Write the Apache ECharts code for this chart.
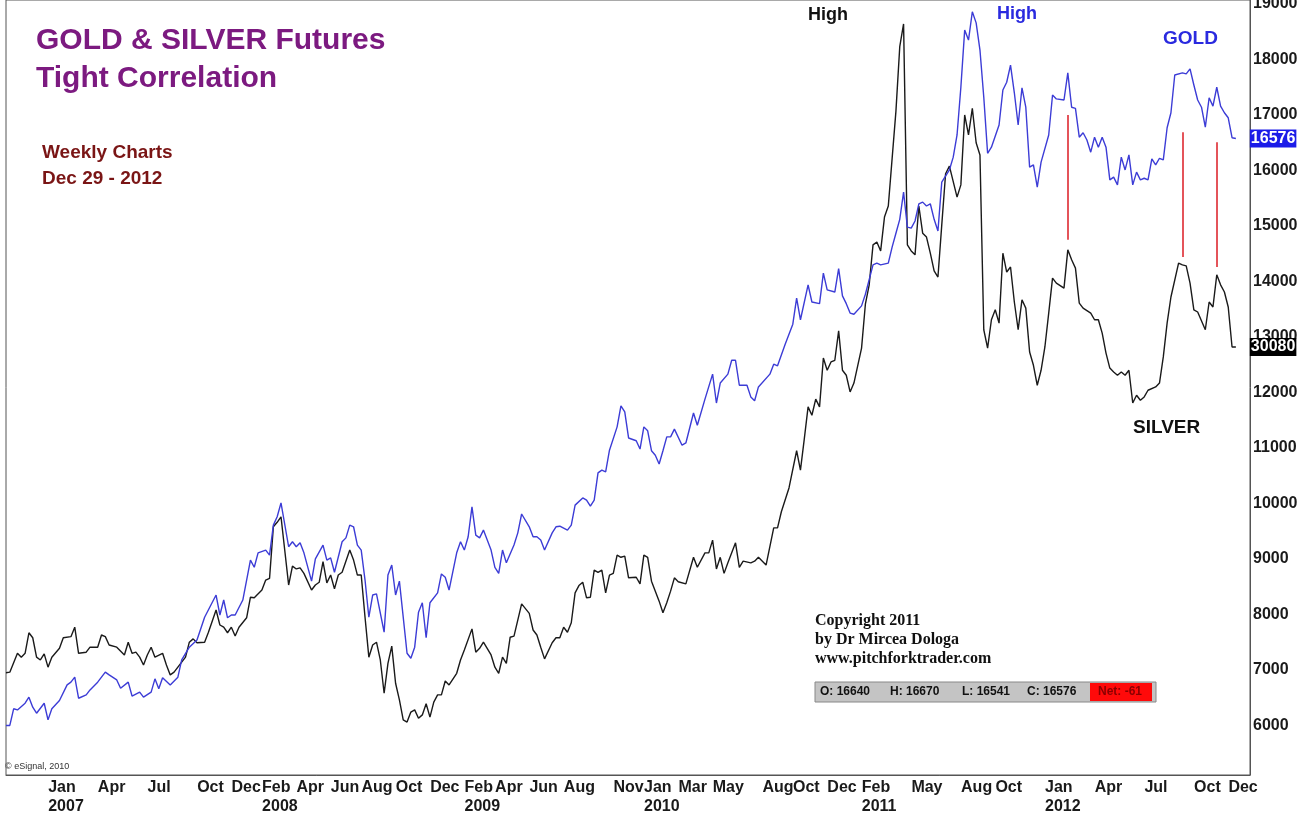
<!DOCTYPE html>
<html lang="en">
<head>
<meta charset="UTF-8">
<title>GOLD &amp; SILVER Futures</title>
<script src="https://cdn.jsdelivr.net/npm/echarts@6/dist/echarts.min.js"></script>
<style>
  html, body { margin: 0; padding: 0; background: #fff; }
  #main { width: 1308px; height: 816px; }
</style>
</head>
<body>
<div id="main"></div>
<script>
// weekly closes; week 0 = Fri 2 Feb 2007. Silver is drawn on the gold price scale, as in the source chart.
var weekZero = '2007-02-02';

var goldWeeks = [
  -14,-13,-12,-11,-9,-8,-7,-6,-4,-3,
  -2,0,2,3,4,5,7,8,10,12,
  13,15,16,18,19,21,22,24,25,26,
  27,29,31,32,34,36,38,41,42,43,
  44,45,46,48,50,51,52,54,55,56,
  57,58,60,61,62,63,64,66,67,69,
  70,71,72,74,75,76,77,78,79,80,
  81,82,83,85,86,87,88,89,91,92,
  93,94,95,96,97,99,100,101,102,104,
  105,106,107,108,109,110,111,113,114,115,
  116,117,119,120,121,123,124,125,126,127,
  129,130,131,133,134,135,137,138,139,140,
  141,142,143,144,146,147,148,149,151,152,
  153,154,155,156,157,158,159,160,161,163,
  164,166,167,169,171,172,173,175,176,177,
  178,180,181,182,183,186,187,188,190,192,
  193,194,196,197,199,200,201,203,204,205,
  206,207,208,210,211,213,214,215,217,218,
  219,220,221,222,223,224,225,226,227,228,
  229,230,231,233,234,235,236,237,238,239,
  240,241,242,243,244,246,247,248,249,250,
  251,252,253,254,255,256,257,259,260,261,
  263,264,265,266,267,268,269,270,271,272,
  273,274,275,276,277,278,279,280,281,282,
  283,284,285,286,287,288,289,290,291,292,
  294,295,296,297,298,299,300,301,302,303,
  304,305,306,307,308
];
var gold = [
  6000,6000,6300,6280,6400,6510,6330,6220,6400,6100,
  6300,6450,6730,6780,6870,6490,6550,6640,6780,6960,
  6910,6820,6670,6780,6530,6600,6510,6600,6840,6660,
  6860,6730,6870,7180,7410,7540,7950,8350,7990,8260,
  7940,7990,7990,8260,8980,8850,9110,9160,9070,9610,
  9760,10010,9220,9310,9220,9290,9110,8600,9000,9250,
  8980,9020,8760,9310,9380,9610,9580,9250,9160,8620,
  7950,8350,8370,7680,8710,8890,8350,8600,7300,7210,
  7410,8040,8210,7580,8210,8390,8730,8670,8440,9110,
  9310,9160,9400,9940,9430,9380,9520,9160,8850,8740,
  9160,8930,9250,9470,9810,9580,9400,9400,9340,9160,
  9470,9580,9590,9520,9610,9970,10100,10060,9950,10060,
  10550,10600,10570,10960,11380,11760,11650,11180,11130,10980,
  11380,11310,10950,10870,10710,10950,11200,11200,11340,11050,
  11090,11630,11410,11880,12330,11810,12170,12330,12580,12580,
  12130,12130,11920,11850,12100,12330,12510,12480,12870,13230,
  13700,13310,13940,13630,13600,14150,13850,13810,14230,13740,
  13600,13430,13410,13560,13770,14300,14330,14300,14330,14620,
  14870,15120,15610,14980,14960,15090,15400,15430,15360,15400,
  15120,14910,15790,16010,16240,16640,17500,18530,18350,18860,
  18660,18170,17320,16310,16420,16820,17450,17590,17900,17400,
  16820,17490,17140,16060,16100,15700,16150,16640,17360,17290,
  17270,17760,17140,17120,16600,16680,16550,16330,16600,16420,
  16600,16420,15830,15880,15740,16240,16010,16280,15740,15970,
  15830,15860,15830,16210,16100,16220,16190,16770,17040,17720,
  17760,17740,17830,17540,17270,17140,16780,17310,17160,17500,
  17160,17040,16950,16590,16576
];

var silverWeeks = [
  -14,-13,-11,-10,-9,-8,-7,-6,-5,-4,
  -3,-2,0,1,3,4,5,7,8,10,
  11,12,13,15,17,18,19,20,21,22,
  23,24,25,27,28,29,30,32,33,34,
  35,36,38,39,41,42,43,44,45,46,
  47,49,50,51,53,54,55,56,57,58,
  60,61,62,63,64,66,67,68,69,70,
  71,72,73,74,76,77,78,79,80,81,
  82,83,84,85,86,87,88,89,90,91,
  92,93,94,95,96,97,98,99,100,101,
  102,104,105,106,108,109,110,111,113,114,
  115,116,117,118,119,121,123,124,125,126,
  127,129,130,131,132,133,134,135,136,137,
  138,139,140,141,142,143,144,145,146,147,
  148,149,151,152,153,154,155,157,158,159,
  160,161,162,164,166,167,169,170,171,172,
  173,174,175,177,178,179,181,182,183,185,
  187,188,189,191,193,194,195,196,197,198,
  199,200,201,202,203,204,205,206,207,208,
  210,211,212,213,214,215,216,217,219,220,
  221,222,223,224,225,226,227,228,229,230,
  231,232,233,235,236,237,238,239,240,241,
  242,243,244,245,246,247,248,249,250,251,
  252,253,254,255,256,257,258,259,260,261,
  263,264,265,266,267,268,270,271,272,273,
  274,275,276,277,278,279,280,281,282,283,
  284,285,287,288,289,290,291,293,294,295,
  296,297,298,300,301,302,303,304,305,306,
  307,308
];
var silver = [
  6950,6960,7300,7230,7300,7670,7580,7230,7180,7290,
  7050,7230,7390,7580,7600,7770,7300,7320,7410,7410,
  7630,7600,7450,7410,7270,7500,7300,7320,7230,7090,
  7270,7410,7230,7300,7090,6910,6960,7140,7230,7500,
  7560,7490,7500,7680,8080,7810,7770,7670,7770,7610,
  7770,7940,8310,8300,8440,8620,8650,9580,9660,9760,
  8530,8870,8820,8840,8740,8440,8530,8580,8950,8570,
  8710,8460,8710,8760,9160,8980,8710,8710,7950,7230,
  7450,7500,7180,6580,7120,7430,6760,6460,6100,6060,
  6240,6280,6130,6190,6390,6150,6420,6550,6550,6800,
  6730,6940,7180,7360,7740,7320,7390,7500,7270,7050,
  6940,7230,7120,7590,7610,8190,8020,7720,7630,7410,
  7200,7490,7580,7580,7770,7680,7850,8390,8520,8580,
  8300,8310,8800,8760,8800,8390,8710,8740,9070,9030,
  9050,8660,8670,8550,9070,9030,8600,8240,8030,8210,
  8420,8660,8590,8550,9030,8850,9110,9110,9340,8820,
  9030,8740,8930,9290,8850,8960,8930,8960,9030,8890,
  9560,9560,9850,10280,10950,10600,11160,11740,11590,11880,
  11740,12620,12400,12550,12580,13110,12400,12310,12010,12170,
  12800,13590,13940,14660,14710,14550,15160,15360,17070,18230,
  18640,14660,14550,14480,15360,14870,14800,14510,14190,14080,
  15020,15940,16080,15520,15740,17000,16640,17120,16500,16280,
  13130,12800,13310,13490,13250,14510,14170,14260,13630,13130,
  13670,13520,12730,12490,12130,12400,12820,13430,14060,13970,
  13880,14570,14390,14240,13610,13520,13430,13310,13310,13070,
  12710,12440,12370,12310,12370,12310,12400,11810,11950,11860,
  11920,12040,12100,12170,12640,13250,13720,14330,14300,14280,
  13970,13490,13450,13130,13630,13540,14120,13940,13810,13540,
  12820,12820
];

// first Friday of each labelled month, and the year printed under it
var monthTicks = [
  '2007-01-05','2007-04-06','2007-07-06','2007-10-05','2007-12-07',
  '2008-02-01','2008-04-04','2008-06-06','2008-08-01','2008-10-03','2008-12-05',
  '2009-02-06','2009-04-03','2009-06-05','2009-08-07','2009-11-06',
  '2010-01-01','2010-03-05','2010-05-07','2010-08-06','2010-10-01','2010-12-03',
  '2011-02-04','2011-05-06','2011-08-05','2011-10-07',
  '2012-01-06','2012-04-06','2012-07-06','2012-10-05','2012-12-07'
];
var yearTicks = ['2007-01-05','2008-02-01','2009-02-06','2010-01-01','2011-02-04','2012-01-06'];
var monthNames = ['Jan','Feb','Mar','Apr','May','Jun','Jul','Aug','Sep','Oct','Nov','Dec'];
var priceTicks = [6000,7000,8000,9000,10000,11000,12000,13000,14000,15000,16000,17000,18000,19000];
var weekRange = [-14, 311.7];
var priceRange = [5107, 19072];

// red lines joining gold and silver turns: [week, top, bottom]
var corrLines = [[264, 17000, 14750], [294, 16690, 14440], [303, 16510, 14260]];

var goldLast = '16576';
var silverLast = '30080';
var quote = ['O: 16640', 'H: 16670', 'L: 16541', 'C: 16576'];
var netChange = 'Net: -61';

var WEEK = 7 * 864e5;
var base = new Date(weekZero).getTime();
function weekOf(dateStr) { return Math.round((new Date(dateStr).getTime() - base) / WEEK); }
function dateOf(w) { return new Date(base + w * WEEK).toISOString().slice(0, 10); }
function toPairs(weeks, vals) {
  return weeks.map(function (w, i) { return [w, vals[i]]; });
}

var sans = '"Liberation Sans", Arial, sans-serif';
var serif = '"Liberation Serif", "Times New Roman", serif';

var myChart = echarts.init(document.getElementById('main'));

var graphics = [
  { type: 'text', x: 36, y: 41, style: { text: 'GOLD & SILVER Futures', font: 'bold 30px ' + sans, fill: '#7c1a80', textVerticalAlign: 'middle' } },
  { type: 'text', x: 36, y: 79, style: { text: 'Tight Correlation', font: 'bold 30px ' + sans, fill: '#7c1a80', textVerticalAlign: 'middle' } },
  { type: 'text', x: 42, y: 153, style: { text: 'Weekly Charts', font: 'bold 19px ' + sans, fill: '#7a1515', textVerticalAlign: 'middle' } },
  { type: 'text', x: 42, y: 179, style: { text: 'Dec 29 - 2012', font: 'bold 19px ' + sans, fill: '#7a1515', textVerticalAlign: 'middle' } },
  { type: 'text', x: 808, y: 15, style: { text: 'High', font: 'bold 18px ' + sans, fill: '#111', textVerticalAlign: 'middle' } },
  { type: 'text', x: 997, y: 14, style: { text: 'High', font: 'bold 18px ' + sans, fill: '#2a2adf', textVerticalAlign: 'middle' } },
  { type: 'text', x: 1163, y: 39, style: { text: 'GOLD', font: 'bold 19px ' + sans, fill: '#2a2adf', textVerticalAlign: 'middle' } },
  { type: 'text', x: 1133, y: 428, style: { text: 'SILVER', font: 'bold 19px ' + sans, fill: '#111', textVerticalAlign: 'middle' } },
  { type: 'text', x: 815, y: 621, style: { text: 'Copyright 2011', font: 'bold 16px ' + serif, fill: '#111', textVerticalAlign: 'middle' } },
  { type: 'text', x: 815, y: 640, style: { text: 'by Dr Mircea Dologa', font: 'bold 16px ' + serif, fill: '#111', textVerticalAlign: 'middle' } },
  { type: 'text', x: 815, y: 659, style: { text: 'www.pitchforktrader.com', font: 'bold 16px ' + serif, fill: '#111', textVerticalAlign: 'middle' } },
  { type: 'rect', shape: { x: 815, y: 682, width: 341, height: 20 }, style: { fill: '#c4c4c4', stroke: '#888', lineWidth: 1 } },
  { type: 'rect', shape: { x: 1090, y: 683, width: 62, height: 18 }, style: { fill: '#ff0a0a' } },
  { type: 'text', x: 5, y: 767, style: { text: '\u00a9 eSignal, 2010', font: '9px ' + sans, fill: '#333', textVerticalAlign: 'middle' } }
];
var quoteX = [820, 890, 962, 1027];
quote.forEach(function (q, i) {
  graphics.push({ type: 'text', x: quoteX[i], y: 692, style: { text: q, font: 'bold 12px ' + sans, fill: '#111', textVerticalAlign: 'middle' } });
});
graphics.push({ type: 'text', x: 1098, y: 692, style: { text: netChange, font: 'bold 12px ' + sans, fill: '#8a0000', textVerticalAlign: 'middle' } });

var option = {
  animation: false,
  backgroundColor: '#fff',
  grid: {
    left: 6, right: 58, top: 0, bottom: 41,
    show: true, borderColor: '#555', borderWidth: 1,
    containLabel: false, outerBoundsMode: 'none'
  },
  xAxis: {
    type: 'value',
    min: weekRange[0],
    max: weekRange[1],
    axisLine: { show: true, onZero: false, lineStyle: { color: '#555', width: 1 } },
    axisTick: { show: false },
    splitLine: { show: false },
    axisLabel: {
      customValues: monthTicks.map(weekOf),
      align: 'left',
      margin: 3,
      padding: [0, 0, 0, 4],
      fontFamily: sans,
      fontSize: 16,
      fontWeight: 'bold',
      color: '#1a1a1a',
      lineHeight: 19,
      formatter: function (v) {
        var key = dateOf(v);
        var m = monthNames[parseInt(key.slice(5, 7), 10) - 1];
        return yearTicks.indexOf(key) >= 0 ? m + '\n' + key.slice(0, 4) : m;
      }
    }
  },
  yAxis: {
    type: 'value',
    position: 'right',
    min: priceRange[0],
    max: priceRange[1],
    axisLine: { show: true, onZero: false, lineStyle: { color: '#555', width: 1 } },
    axisTick: { show: false },
    splitLine: { show: false },
    axisLabel: {
      customValues: priceTicks,
      margin: 3,
      fontFamily: sans,
      fontSize: 16,
      fontWeight: 'bold',
      color: '#1a1a1a',
      formatter: function (v) { return String(v); }
    }
  },
  series: [
    {
      name: 'Silver',
      type: 'line',
      data: toPairs(silverWeeks, silver),
      showSymbol: false,
      lineStyle: { color: '#1a1a1a', width: 1.4 },
      endLabel: {
        show: true, formatter: silverLast, distance: 14,
        backgroundColor: '#000', color: '#fff', padding: [1, 1],
        fontFamily: sans, fontSize: 16, fontWeight: 'bold'
      },
      markLine: {
        silent: true,
        symbol: 'none',
        label: { show: false },
        lineStyle: { color: '#e4545a', width: 2, type: 'solid' },
        data: corrLines.map(function (c) {
          return [{ coord: [c[0], c[1]] }, { coord: [c[0], c[2]] }];
        })
      }
    },
    {
      name: 'Gold',
      type: 'line',
      data: toPairs(goldWeeks, gold),
      showSymbol: false,
      lineStyle: { color: '#3c3cd6', width: 1.4 },
      endLabel: {
        show: true, formatter: goldLast, distance: 14,
        backgroundColor: '#1c1ce8', color: '#fff', padding: [1, 1],
        fontFamily: sans, fontSize: 16, fontWeight: 'bold'
      }
    }
  ],
  graphic: graphics
};

myChart.setOption(option);
</script>
</body>
</html>
